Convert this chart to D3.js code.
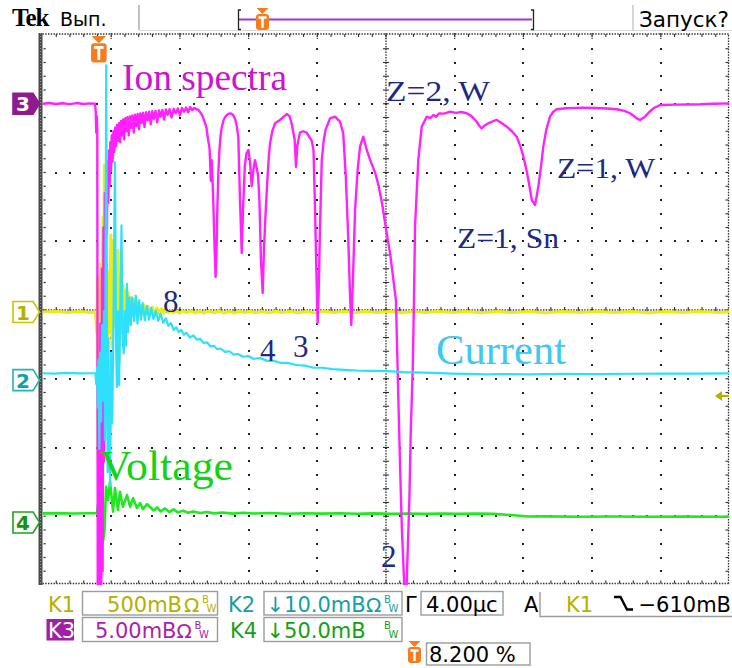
<!DOCTYPE html>
<html>
<head>
<meta charset="utf-8">
<script src="https://cdn.jsdelivr.net/npm/d3@7/dist/d3.min.js"></script>
<style>
  html,body{margin:0;padding:0;background:#fff;}
  svg{display:block;}
</style>
</head>
<body>
<svg id="scope" width="732" height="668"></svg>
<script>
// ---- acquisition settings -------------------------------------------------
const timePerDiv  = 4.0;     // µs / div
const triggerPct  = 8.2;     // trigger position, % of record
const channelIds  = [1, 2, 3, 4];
const mvPerDiv    = [500, 10, 5, 50];          // K1..K4
const offsetDiv   = [-0.03, -1.02, 3.0, -3.09]; // ground level of K1..K4, div
const triggerLevel = -610;                      // mV on K1

// ---- K3 : ion spectrum  [t µs, mV] ----------------------------------------
const ionSpectrum = [
[-3.28,0.00],[-2.9,0.05],[-2.5,-0.02],[-2.1,0.04],[-1.7,-0.03],[-1.3,0.05],[-0.9,-0.02],[-0.5,0.03],
[-0.22,0.00],[-0.18,-0.6],[-0.15,-2.1],[-0.12,-0.9],[-0.09,-1.8],[-0.06,-40],
[0.00,-22],[0.04,-40],[0.09,-16],[0.13,-40],[0.18,-12],[0.22,-34],[0.27,-9],[0.31,-26],[0.35,-6.5],
[0.39,-15],[0.43,-5.0],[0.47,-9.5],[0.51,-4.2],[0.55,-7.2],[0.59,-3.4],[0.63,-6.0],[0.67,-2.8],
[0.71,-4.9],[0.75,-2.3],[0.80,-4.2],[0.85,-2.0],[0.90,-3.5],[0.95,-1.75],[1.00,-3.1],[1.06,-1.55],
[1.12,-2.7],[1.18,-1.4],[1.24,-2.8],[1.30,-1.25],[1.36,-2.3],[1.42,-1.15],[1.48,-2.6],[1.54,-1.05],
[1.60,-2.0],[1.67,-0.98],[1.74,-2.3],[1.81,-0.92],[1.88,-1.75],[1.95,-0.86],[2.03,-2.1],[2.10,-0.80],
[2.18,-1.6],[2.26,-0.75],[2.34,-1.85],[2.42,-0.70],[2.50,-1.4],[2.58,-0.66],[2.66,-1.7],[2.75,-0.62],
[2.84,-1.2],[2.93,-0.58],[3.02,-1.5],[3.11,-0.55],[3.20,-1.1],[3.30,-0.52],[3.40,-1.35],[3.50,-0.48],
[3.60,-0.95],[3.70,-0.45],[3.80,-1.15],[3.90,-0.42],[4.00,-0.8],[4.12,-0.40],[4.24,-1.0],[4.36,-0.37],
[4.48,-0.7],[4.60,-0.34],[4.72,-0.85],[4.84,-0.31],[4.96,-0.58],[5.08,-0.28],[5.20,-0.62],[5.32,-0.24],
[5.44,-0.45],[5.56,-0.30],[5.68,-0.40],[5.80,-0.45],[5.92,-0.65],[6.04,-0.90],[6.15,-1.3],[6.26,-1.7],
[6.36,-2.6],[6.45,-3.3],[6.52,-5.6],[6.57,-4.1],[6.62,-5.5],[6.68,-7.8],[6.74,-10.5],[6.80,-12.6],
[6.85,-11.0],[6.90,-7.6],[6.96,-5.0],[7.02,-3.4],[7.09,-2.3],[7.16,-1.7],[7.26,-1.2],[7.36,-0.95],
[7.46,-0.82],[7.56,-0.72],[7.66,-0.70],[7.76,-0.75],[7.86,-0.90],[7.96,-1.2],[8.04,-1.7],[8.12,-2.4],
[8.22,-7.0],[8.32,-10.85],[8.40,-7.5],[8.50,-4.5],[8.60,-3.6],[8.71,-3.36],[8.80,-4.2],[8.90,-6.0],
[9.00,-4.8],[9.09,-4.1],[9.18,-4.6],[9.27,-5.2],[9.35,-7.0],[9.44,-11.4],[9.54,-13.76],[9.62,-10.4],
[9.72,-7.7],[9.81,-5.6],[9.90,-3.8],[9.97,-2.85],[10.10,-2.0],[10.26,-1.42],[10.40,-1.3],[10.55,-1.18],
[10.75,-0.95],[10.94,-0.75],[11.10,-0.9],[11.22,-1.4],[11.31,-2.0],[11.40,-2.6],[11.48,-4.6],[11.56,-3.0],
[11.71,-2.1],[11.90,-2.0],[12.10,-2.1],[12.25,-2.4],[12.40,-2.7],[12.50,-3.4],[12.59,-7.7],[12.66,-11.85],
[12.74,-15.95],[12.80,-13.76],[12.88,-8.9],[12.98,-4.1],[13.10,-2.6],[13.20,-1.9],[13.46,-1.06],[13.75,-0.94],
[14.04,-1.3],[14.23,-2.15],[14.38,-5.3],[14.52,-9.67],[14.62,-13.76],[14.70,-16.1],[14.80,-12.6],[14.92,-7.7],
[15.07,-4.8],[15.21,-3.1],[15.40,-2.4],[15.60,-3.36],[15.80,-4.1],[16.10,-5.06],[16.30,-6.03],[16.49,-7.24],
[16.76,-9.42],[16.96,-10.9],[17.10,-12.3],[17.30,-14.3],[17.44,-21.5],[17.54,-26.4],[17.64,-30.8],[17.77,-34.6],
[17.86,-40],[17.93,-34.6],[18.08,-28.8],[18.16,-23.95],[18.28,-19.1],[18.35,-14.3],[18.41,-8.9],[18.60,-4.1],
[18.80,-1.67],[19.09,-0.94],[19.30,-1.05],[19.48,-0.82],[19.65,-0.95],[19.80,-0.70],[20.10,-0.72],[20.45,-0.58],
[20.80,-0.66],[21.10,-0.60],[21.42,-0.69],[21.70,-0.90],[22.00,-1.31],[22.15,-1.60],[22.29,-1.79],[22.45,-1.60],
[22.68,-1.42],[22.90,-1.30],[23.17,-1.18],[23.45,-1.40],[23.75,-1.67],[24.05,-2.0],[24.33,-2.4],[24.55,-3.1],
[24.72,-3.85],[24.88,-4.7],[25.01,-5.55],[25.21,-7.0],[25.40,-7.36],[25.59,-6.03],[25.75,-4.5],[25.88,-3.12],
[26.05,-1.9],[26.27,-0.94],[26.45,-0.60],[26.66,-0.40],[27.20,-0.33],[27.80,-0.30],[28.21,-0.29],[28.90,-0.31],
[29.60,-0.35],[30.15,-0.40],[30.60,-0.52],[30.93,-0.69],[31.32,-1.06],[31.51,-1.18],[31.80,-0.94],[32.05,-0.60],
[32.29,-0.33],[32.68,-0.09],[33.50,-0.06],[34.30,-0.05],[35.01,-0.04],[35.80,0.00],[36.72,0.03]
];

// ---- K2 : discharge current  [t µs, mV] -----------------------------------
const currentTrace = [
[-3.28,1.0],[-2.6,0.95],[-1.9,1.05],[-1.2,0.97],[-0.5,1.0],[-0.2,1.0],[-0.15,-0.6],[-0.10,1.8],
[-0.06,-4],[-0.02,3],[0.03,-10],[0.08,4],[0.13,-6],[0.18,8],[0.23,-3],[0.30,10],[0.36,-8.7],
[0.43,45.8],[0.47,10],[0.51,-13.4],[0.56,6],[0.61,-8.7],[0.66,-15.4],[0.72,4],[0.78,-6.3],
[0.85,8],[0.94,31.7],[1.00,6],[1.05,-1],[1.12,10],[1.18,-0.7],[1.24,9],[1.32,22.5],[1.38,6],
[1.45,3.9],[1.52,10],[1.58,5],[1.64,14],[1.70,7],[1.78,12],[1.86,8],[1.95,12.0],
[2.05,8.6],[2.15,12.3],[2.25,8.2],[2.35,11.6],[2.45,8.8],[2.55,11.2],[2.68,8.7],[2.80,10.8],[2.92,8.8],
[3.05,10.5],[3.18,8.9],[3.32,10.1],[3.46,8.6],[3.60,9.7],[3.75,8.3],[3.90,9.0],[4.05,7.9],[4.20,8.3],[4.35,7.3],
[4.50,7.7],[4.65,7.0],[4.80,7.3],[4.95,6.6],[5.10,6.9],[5.30,6.2],[5.50,6.5],[5.70,5.9],[5.90,6.0],[6.10,5.4],
[6.30,5.5],[6.50,4.9],[6.70,5.0],[6.90,4.5],[7.10,4.6],[7.35,4.1],[7.60,4.2],[7.85,3.7],[8.10,3.8],[8.40,3.4],
[8.70,3.5],[9.00,3.1],[9.40,3.2],[9.80,2.8],[10.2,2.8],[10.6,2.5],[11.0,2.5],[11.5,2.2],[12.0,2.1],[12.5,1.8],
[13.0,1.8],[13.6,1.6],[14.3,1.5],[15.0,1.4],[15.8,1.35],[16.8,1.3],[17.8,1.15],[18.8,1.1],[19.5,1.05],[20.5,0.95],
[21.5,0.9],[22.5,0.85],[23.5,0.87],[25.0,0.85],[27.0,0.9],[29.0,0.88],[31.0,0.93],[33.0,0.95],[35.0,0.95],[36.72,0.97]
];

// ---- K1 : trigger pulse  [t µs, mV] ---------------------------------------
const pulseTrace = [
[-3.28,0],[-2.5,5],[-1.8,-4],[-1.1,4],[-0.5,-3],[-0.2,0],[-0.12,-150],[-0.07,250],[-0.04,-1054],[0.00,200],
[0.05,-1345],[0.10,350],[0.15,-500],[0.20,450],[0.25,690],[0.28,-200],[0.32,1069],[0.36,-100],[0.42,400],
[0.48,-298],[0.55,300],[0.62,-150],[0.70,560],[0.76,-254],[0.82,520],[0.90,-100],[0.98,300],[1.05,-150],
[1.12,450],[1.18,-370],[1.25,250],[1.32,-150],[1.40,200],[1.47,-60],[1.55,160],[1.62,-40],[1.70,140],
[1.78,-30],[1.86,110],[1.94,-20],[2.02,90],[2.12,-25],[2.22,75],[2.32,-15],[2.42,50],[2.52,-20],[2.64,48],
[2.76,-10],[2.88,40],[3.00,-15],[3.12,35],[3.25,-10],[3.38,30],[3.50,-8],[3.64,25],[3.78,-8],[3.92,18],
[4.06,-5],[4.20,12],[4.35,-4],[4.5,10],[4.7,-6],[4.9,8],[5.1,-5],[5.35,9],[5.6,-6],[5.85,6],[6.1,-7],
[6.4,7],[6.7,-5],[7.0,6],[7.3,-6],[7.6,5],[7.9,-7],[8.2,6],[8.5,-4],[8.8,7],[9.1,-5],[9.5,5],[9.9,-6],
[10.3,6],[10.7,-4],[11.1,5],[11.6,-5],[12.1,4],[12.6,-6],[13.1,5],[13.7,-4],[14.3,5],[14.9,-5],[15.5,4],
[16.2,-4],[16.9,5],[17.6,-5],[18.3,4],[19.0,-4],[19.8,5],[20.6,-4],[21.4,4],[22.3,-5],[23.2,4],[24.1,-4],
[25.0,4],[26.0,-5],[27.0,4],[28.0,-4],[29.0,5],[30.0,-4],[31.0,4],[32.0,-5],[33.0,4],[34.0,-4],[35.0,5],
[36.0,-3],[36.72,2]
];

// ---- K4 : discharge voltage  [t µs, mV] -----------------------------------
const voltageTrace = [
[-3.28,6.6],[-2.4,6.8],[-1.5,6.5],[-0.6,6.7],[-0.11,6.8],[-0.05,12.7],[0.07,17.7],[0.16,9.0],[0.245,-14],
[0.33,-5.5],[0.42,26],[0.54,16.3],[0.65,29.6],[0.83,7.8],[0.94,25],[1.11,9.0],[1.23,22.3],[1.40,11.4],
[1.64,19.9],[1.82,11.4],[1.99,17.7],[2.22,10.5],[2.40,14.1],[2.57,9.7],[2.81,13.4],[2.98,11.2],[3.2,8.7],
[3.4,11.0],[3.6,8.0],[3.85,10.2],[4.1,7.5],[4.35,9.5],[4.6,7.2],[4.9,8.6],[5.2,7.0],[5.5,8.0],[5.9,6.8],
[6.3,7.6],[6.7,6.6],[7.2,7.2],[7.8,6.4],[8.4,7.0],[9.0,6.5],[10.0,6.9],[11.0,6.3],[12.0,6.7],[13.0,6.4],
[14.0,6.7],[15.0,6.3],[16.0,6.6],[17.0,6.3],[18.0,6.5],[19.0,6.2],[20.0,6.5],[21.0,6.2],[22.0,6.4],
[23.0,6.2],[24.0,5.4],[25.0,4.3],[26.0,4.4],[28.0,4.1],[30.0,4.3],[32.0,4.1],[34.0,4.2],[36.72,4.1]
];

// ---- annotations ------------------------------------------------------------
const annotations = [
  {text:"Ion spectra", x:122, y:89.5, size:37, color:"#cf12cf", len:165},
  {text:"Z=2, W",      x:386, y:100.5, size:30, color:"#1c2a84", len:104},
  {text:"Z=1, W",      x:557, y:177.5, size:30, color:"#1c2a84", len:98},
  {text:"Z=1, Sn",     x:457, y:247.5, size:30, color:"#1c2a84", len:102},
  {text:"8",           x:163, y:311.5, size:31, color:"#1c2a84", len:null},
  {text:"4",           x:260, y:361,   size:31, color:"#1c2a84", len:null},
  {text:"3",           x:293, y:356.5, size:31, color:"#1c2a84", len:null},
  {text:"2",           x:381, y:566.5, size:31, color:"#1c2a84", len:null},
  {text:"Current",     x:436, y:364,   size:42, color:"#40c8f4", len:130},
  {text:"Voltage",     x:100, y:480,   size:42, color:"#14d214", len:133}
];

// ---- readout texts -----------------------------------------------------------
const headerTexts = ["Tek", "Вып.", "Запуск?"];
const scaleTexts  = ["500mB", "↓10.0mB", "5.00mB", "↓50.0mB"];
const timebaseText = "4.00µc";
const triggerText  = "−610mB";
const positionText = "8.200 %";

// ============================================================================
const svg = d3.select("#scope");
const X0 = 42.5, X1 = 729.5, Y0 = 35, Y1 = 585;
const tStart = -triggerPct / 100 * 10 * timePerDiv;
const tEnd   = tStart + 10 * timePerDiv;

const xT   = d3.scaleLinear().domain([tStart, tEnd]).range([X0, X1]);
const xDiv = d3.scaleLinear().domain([0, 10]).range([X0, X1]);
const yDiv = d3.scaleLinear().domain([-4, 4]).range([Y1, Y0]);
const yCh  = i => v => yDiv(v / mvPerDiv[i] + offsetDiv[i]);

const SANS = "DejaVu Sans", SERIF = "Liberation Serif";

// ---- header bar -------------------------------------------------------------
const hdr = svg.append("g");
hdr.append("text").text(headerTexts[0]).attr("x", 12).attr("y", 26)
  .attr("font-family", SERIF).attr("font-weight", "bold").attr("font-size", 25)
  .attr("letter-spacing", -1).attr("fill", "#000");
hdr.append("text").text(headerTexts[1]).attr("x", 60).attr("y", 26)
  .attr("font-family", SANS).attr("font-size", 19).attr("fill", "#000");
hdr.append("line").attr("x1", 139).attr("x2", 139).attr("y1", 5).attr("y2", 30)
  .attr("stroke", "#999").attr("stroke-width", 1.2);
hdr.append("line").attr("x1", 139).attr("x2", 732).attr("y1", 30.5).attr("y2", 30.5)
  .attr("stroke", "#d8d8d8").attr("stroke-width", 1);
hdr.append("line").attr("x1", 633).attr("x2", 633).attr("y1", 5).attr("y2", 30)
  .attr("stroke", "#bbb").attr("stroke-width", 1.2);
hdr.append("text").text(headerTexts[2]).attr("x", 639).attr("y", 26.5)
  .attr("font-family", SANS).attr("font-size", 21.5).attr("fill", "#000");
// record window bar
hdr.append("line").attr("x1", 239).attr("x2", 532).attr("y1", 19.5).attr("y2", 19.5)
  .attr("stroke", "#a238c2").attr("stroke-width", 2);
hdr.append("path").attr("d", "M241,10 H238.5 V29.5 H241").attr("fill", "none")
  .attr("stroke", "#222").attr("stroke-width", 1.3);
hdr.append("path").attr("d", "M531,10 H533.5 V29.5 H531").attr("fill", "none")
  .attr("stroke", "#222").attr("stroke-width", 1.3);

// orange trigger-position icon: small arrow over a rounded "T" tab
function trigIcon(g, cx, top, k) {
  k = k || 1;
  const w = 13 * k, h = 16 * k, a = 6 * k;
  g.append("path").attr("d", `M${cx-w/2+0.5},${top} H${cx+w/2-0.5} L${cx},${top+a} Z`).attr("fill", "#f57c1f");
  g.append("rect").attr("x", cx-w/2).attr("y", top+a).attr("width", w).attr("height", h)
    .attr("rx", 3).attr("fill", "#f57c1f");
  g.append("path").attr("d", `M${cx-w*0.31},${top+a+h*0.22} H${cx+w*0.31} M${cx},${top+a+h*0.22} V${top+a+h*0.88}`)
    .attr("stroke", "#fff").attr("stroke-width", 2.4 * k).attr("fill", "none");
}
trigIcon(hdr, 262.5, 8);

// ---- graticule ------------------------------------------------------------
const grid = svg.append("g");
const dotC = "#222";
const dot = (cx, cy) => grid.append("rect").attr("x", Math.round(cx) - 1).attr("y", Math.round(cy) - 1)
  .attr("width", 2).attr("height", 2).attr("fill", dotC);
for (let i = 1; i < 10; i++) {
  if (i === 5) continue;
  for (let j = 1; j < 40; j++) dot(xDiv(i), yDiv(-4 + j / 5));
}
for (let k = 1; k < 8; k++) {
  if (k === 4) continue;
  for (let j = 1; j < 50; j++) dot(xDiv(j / 5), yDiv(-4 + k));
}
// centre cross and frame rulers: fine dotted lines with minor ticks
function vRuler(x, tickL, tickR) {
  grid.append("line").attr("x1", x).attr("x2", x).attr("y1", Y0).attr("y2", Y1)
    .attr("stroke", "#303030").attr("stroke-width", 1.3).attr("stroke-dasharray", "1.4,1.35");
  for (let j = 1; j < 40; j++) {
    const y = yDiv(-4 + j / 5);
    grid.append("line").attr("x1", x - tickL).attr("x2", x + tickR).attr("y1", y).attr("y2", y)
      .attr("stroke", "#303030").attr("stroke-width", 1.1);
  }
}
function hRuler(y, tickU, tickD) {
  grid.append("line").attr("x1", X0).attr("x2", X1).attr("y1", y).attr("y2", y)
    .attr("stroke", "#303030").attr("stroke-width", 1.3).attr("stroke-dasharray", "1.4,1.35");
  for (let j = 1; j < 50; j++) {
    const x = xDiv(j / 5);
    grid.append("line").attr("x1", x).attr("x2", x).attr("y1", y - tickU).attr("y2", y + tickD)
      .attr("stroke", "#303030").attr("stroke-width", 1.1);
  }
}
vRuler(xDiv(5), 3, 3);
hRuler(yDiv(0), 3, 3);
vRuler(X1 - 1, 3, 0);
hRuler(Y1 - 1.5, 3, 0);
hRuler(Y0 - 1, 0, 3);
for (let i = 1; i < 10; i++) {
  grid.append("line").attr("x1", xDiv(i)).attr("x2", xDiv(i)).attr("y1", Y0 - 2).attr("y2", Y0 + 5)
    .attr("stroke", "#303030").attr("stroke-width", 1.2).attr("stroke-dasharray", "1.2,1.2");
}
// heavy left frame edge
grid.append("line").attr("x1", 40.5).attr("x2", 40.5).attr("y1", Y0 - 2).attr("y2", Y1)
  .attr("stroke", "#4a4a4a").attr("stroke-width", 4);
grid.append("line").attr("x1", 40.5).attr("x2", 40.5).attr("y1", Y0 - 2).attr("y2", Y1)
  .attr("stroke", "#9a9a9a").attr("stroke-width", 1).attr("stroke-dasharray", "1,2");
for (let j = 1; j < 40; j++) {
  grid.append("rect").attr("x", 43.5).attr("y", yDiv(-4 + j / 5) - 0.6)
    .attr("width", 2.2).attr("height", 1.2).attr("fill", "#303030");
}

// ---- traces ---------------------------------------------------------------
svg.append("clipPath").attr("id", "plotClip").append("rect")
  .attr("x", X0 - 1).attr("y", Y0).attr("width", X1 - X0 + 1).attr("height", Y1 - Y0);
const traces = svg.append("g").attr("clip-path", "url(#plotClip)");
const drawTrace = (data, ch, color, width) => {
  const line = d3.line().x(d => xT(d[0])).y(d => yCh(ch)(d[1]));
  traces.append("path").datum(data).attr("d", line).attr("fill", "none")
    .attr("stroke", color).attr("stroke-width", width).attr("stroke-linejoin", "round");
};
drawTrace(voltageTrace, 3, "#22e822", 2.6);
drawTrace(pulseTrace,   0, "#ecec14", 3.0);
drawTrace(ionSpectrum,  2, "#ff22ff", 2.4);
drawTrace(currentTrace, 1, "#2ee0fa", 2.2);

// ---- trigger markers ------------------------------------------------------
trigIcon(svg.append("g"), xT(0), 36, 1.2);
const tl = yCh(0)(triggerLevel);
svg.append("path").attr("d", `M715,${tl} L722,${tl-5} L722,${tl+5} Z`).attr("fill", "#b8b000");
svg.append("line").attr("x1", 721).attr("x2", 729).attr("y1", tl).attr("y2", tl)
  .attr("stroke", "#b8b000").attr("stroke-width", 2.2);

// ---- channel ground markers -----------------------------------------------
const markerStyle = [
  {fill:"#fff", stroke:"#c9c400", text:"#b5b000"},
  {fill:"#fff", stroke:"#22b4bc", text:"#14a0a8"},
  {fill:"#8e1c8e", stroke:"#8e1c8e", text:"#fff"},
  {fill:"#fff", stroke:"#18a418", text:"#129612"}
];
channelIds.forEach((id, i) => {
  const c = yDiv(offsetDiv[i]), s = markerStyle[i];
  svg.append("path").attr("d", `M13,${c-10.5} H33 L39.5,${c} L33,${c+10.5} H13 Z`)
    .attr("fill", s.fill).attr("stroke", s.stroke).attr("stroke-width", 1.6);
  svg.append("text").text(id).attr("x", 23).attr("y", c + 7.5).attr("text-anchor", "middle")
    .attr("font-family", SANS).attr("font-weight", "bold").attr("font-size", 20).attr("fill", s.text);
});

// ---- annotations ----------------------------------------------------------
annotations.forEach(a => {
  const t = svg.append("text").text(a.text).attr("x", a.x).attr("y", a.y)
    .attr("font-family", SERIF).attr("font-size", a.size).attr("fill", a.color);
  if (a.len) t.attr("textLength", a.len).attr("lengthAdjust", "spacingAndGlyphs");
});

// ---- readout panel ----------------------------------------------------------
const pnl = svg.append("g").attr("font-family", SANS);
const box = (x, y, w, h) => pnl.append("rect").attr("x", x).attr("y", y).attr("width", w).attr("height", h)
  .attr("fill", "none").attr("stroke", "#9c9c9c").attr("stroke-width", 1.4);
const txt = (s, x, y, color, size, anchor) => pnl.append("text").text(s).attr("x", x).attr("y", y)
  .attr("fill", color).attr("font-size", size || 21).attr("text-anchor", anchor || "start");
const ohmBw = (x, y, color, withOhm) => {
  if (withOhm) txt("Ω", x, y, color, 20);
  txt("B", x + 18, y - 9, color, 10);
  txt("W", x + 22.5, y, color, 10);
};
const chColor = ["#b4b000", "#14a0a0", "#ad1dad", "#14a014"];

// row 1
txt("K1", 48, 611.5, chColor[0]);
box(82.5, 591.5, 135, 23.5);
txt(scaleTexts[0], 182, 611.5, chColor[0], 21, "end");
ohmBw(184, 611.5, chColor[0], true);
txt("K2", 228, 611.5, chColor[1]);
box(264, 591.5, 138, 23.5);
txt(scaleTexts[1], 266.5, 611.5, chColor[1]);
ohmBw(366, 611.5, chColor[1], true);
txt("Г", 405, 611.5, "#000");
box(421, 591.5, 82, 23.5);
txt(timebaseText, 426, 611.5, "#000");
txt("A", 524, 611.5, "#000");
pnl.append("path").attr("d", "M540,592 V616.5 H732").attr("fill", "none")
  .attr("stroke", "#9c9c9c").attr("stroke-width", 1.4);
txt("K1", 566, 611.5, chColor[0]);
pnl.append("path").attr("d", "M614,597 H620.5 L627,609.5 H633").attr("fill", "none")
  .attr("stroke", "#000").attr("stroke-width", 2.4);
txt(triggerText, 731, 611.5, "#000", 21, "end");

// row 2
pnl.append("rect").attr("x", 46.5).attr("y", 619).attr("width", 27.5).attr("height", 21.5).attr("fill", "#a21ea2");
txt("K3", 48, 637.5, "#fff");
box(82.5, 617.5, 135, 24);
txt(scaleTexts[2], 176.5, 637.5, chColor[2], 21, "end");
ohmBw(176.5, 637.5, chColor[2], true);
txt("K4", 230, 637.5, chColor[3]);
box(264, 617.5, 138, 24);
txt(scaleTexts[3], 266.5, 637.5, chColor[3]);
ohmBw(366, 637.5, chColor[3], false);

// row 3
trigIcon(pnl, 414.5, 641);
box(426.5, 643, 103.5, 22);
txt(positionText, 429, 661.5, "#000");
</script>
</body>
</html>
